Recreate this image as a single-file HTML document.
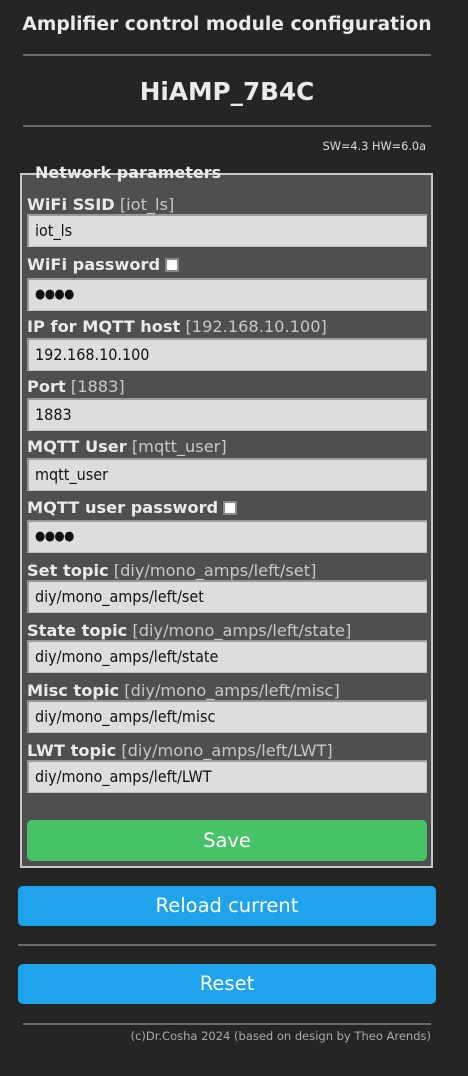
<!DOCTYPE html>
<html><head><meta charset="utf-8"><style>
*{margin:0;padding:0;box-sizing:border-box}
body{width:468px;height:1076px;background:#252525;position:relative;overflow:hidden;font-family:"DejaVu Sans","Liberation Sans",sans-serif;color:#eaeaea}
.a{position:absolute;white-space:nowrap}
.hr{position:absolute;left:23px;width:408px;height:2px;background:#6a6a6a}
.fs{position:absolute;left:20px;top:173px;width:413px;height:695px;border:2px solid #c8c8c8;background:#4f4f4f}
.lg{position:absolute;left:30px;top:162px;background:#252525;padding:0 5px;font-weight:bold;font-size:16px;line-height:22px;color:#eaeaea;height:11px;overflow:visible}
.lb{position:absolute;left:27px;font-size:16.2px;line-height:19px;white-space:nowrap;color:#eaeaea}
.lb b{font-weight:bold}
.lb span{color:#c8c8c8;font-weight:normal}
.in{position:absolute;left:27px;width:400px;height:33px;background:#dddddd;border-top:2px solid #9a9a9a;border-left:2px solid #9a9a9a;border-right:1px solid #c0c0c0;border-bottom:1px solid #c0c0c0;color:#111;font-size:16px;line-height:29px;padding-left:6px;font-family:"DejaVu Sans Condensed","DejaVu Sans",sans-serif}
.pw{font-size:13px;letter-spacing:-0.5px}
.cb{display:inline-block;width:14px;height:14px;background:#fff;border:2px solid #888;vertical-align:-2px;margin-left:5px}
.btn{position:absolute;border-radius:5px;color:#fff;text-align:center;font-size:19.5px}
</style></head><body>
<div class="a" style="left:0;width:454px;top:13px;text-align:center;font-weight:bold;font-size:18.7px;line-height:24px;color:#eaeaea">Amplifier control module configuration</div>
<div class="hr" style="top:54px"></div>
<div class="a" style="left:0;width:454px;top:76px;text-align:center;font-weight:bold;font-size:24.7px;line-height:32px">HiAMP_7B4C</div>
<div class="hr" style="top:125px"></div>
<div class="a" style="right:42px;top:139px;font-size:11.3px;line-height:15px;color:#ddd">SW=4.3 HW=6.0a</div>
<div class="fs"></div>
<div class="lg">Network parameters</div>

<div class="lb" style="top:195px"><b>WiFi SSID</b> <span>[iot_ls]</span></div>
<div class="in" style="top:214px">iot_ls</div>
<div class="lb" style="top:255px"><b>WiFi password</b><i class="cb"></i></div>
<div class="in pw" style="top:278px">●●●●</div>
<div class="lb" style="top:317px"><b>IP for MQTT host</b> <span>[192.168.10.100]</span></div>
<div class="in" style="top:338px">192.168.10.100</div>
<div class="lb" style="top:377px"><b>Port</b> <span>[1883]</span></div>
<div class="in" style="top:398px">1883</div>
<div class="lb" style="top:437px"><b>MQTT User</b> <span>[mqtt_user]</span></div>
<div class="in" style="top:458px">mqtt_user</div>
<div class="lb" style="top:498px"><b>MQTT user password</b><i class="cb"></i></div>
<div class="in pw" style="top:520px">●●●●</div>
<div class="lb" style="top:561px"><b>Set topic</b> <span>[diy/mono_amps/left/set]</span></div>
<div class="in" style="top:580px">diy/mono_amps/left/set</div>
<div class="lb" style="top:621px"><b>State topic</b> <span>[diy/mono_amps/left/state]</span></div>
<div class="in" style="top:640px">diy/mono_amps/left/state</div>
<div class="lb" style="top:681px"><b>Misc topic</b> <span>[diy/mono_amps/left/misc]</span></div>
<div class="in" style="top:700px">diy/mono_amps/left/misc</div>
<div class="lb" style="top:741px"><b>LWT topic</b> <span>[diy/mono_amps/left/LWT]</span></div>
<div class="in" style="top:760px">diy/mono_amps/left/LWT</div>

<div class="btn" style="left:27px;top:820px;width:400px;height:41px;line-height:41px;background:#47c266">Save</div>
<div class="btn" style="left:18px;top:886px;width:418px;height:40px;line-height:40px;background:#1fa3ec">Reload current</div>
<div class="hr" style="left:18px;width:418px;top:944px"></div>
<div class="btn" style="left:18px;top:964px;width:418px;height:40px;line-height:40px;background:#1fa3ec">Reset</div>
<div class="hr" style="top:1023px"></div>
<div class="a" style="right:37px;top:1029px;font-size:11.5px;line-height:15px;color:#aaa">(c)Dr.Cosha 2024 (based on design by Theo Arends)</div>
</body></html>
